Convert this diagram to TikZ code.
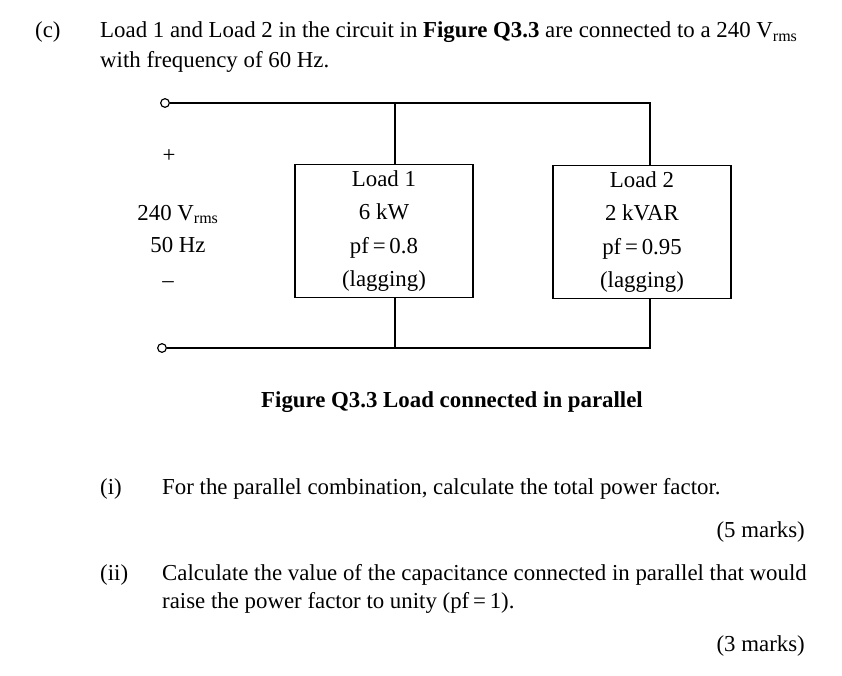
\documentclass[tikz,border=0pt]{standalone}
\usepackage{fontspec}
\setmainfont{Liberation Serif}
\usetikzlibrary{positioning}
\tikzset{
  txt/.style={anchor=base west, inner sep=0pt, font=\fontsize{19.5}{23}\selectfont},
  load/.style={draw, line width=1.2pt, minimum width=178*0.03cm, minimum height=133*0.03cm, align=center, font=\fontsize{19.5}{28.5}\selectfont},
  term/.style={circle, draw, line width=1pt, inner sep=0pt, minimum size=0.26cm},
  wire/.style={line width=1.2pt}
}
\begin{document}
\begin{tikzpicture}[x=0.03cm, y=-0.03cm]
    \useasboundingbox (0,0) rectangle (842,676);
    % Question text
    \node[txt] (qc) at (35,38) {(c)};
    \node[txt] (ql1) at (100,38) {Load 1 and Load 2 in the circuit in \textbf{Figure Q3.3} are connected to a 240 V\textsubscript{rms}};
    \node[txt] (ql2) at (100,68) {with frequency of 60 Hz.};

    % Circuit
    \node[term] (tp) at (165,103) {};
    \node[term] (tn) at (162,348) {};
    \node[load] (L1) at (384,231) {Load 1\\6 kW\\pf\,=\,0.8\\(lagging)};
    \node[load] (L2) at (642,232) {Load 2\\2 kVAR\\pf\,=\,0.95\\(lagging)};
    \coordinate (tr) at (650,103);
    \coordinate (br) at (650,348);
    \coordinate (l1t) at (395,165);
    \coordinate (l1b) at (395,297);
    \draw[wire] (tp) -- (tr) -- (tr |- L2.north);
    \draw[wire] (l1t) -- (l1t |- tp);
    \draw[wire] (tn) -- (br) -- (br |- L2.south);
    \draw[wire] (l1b) -- (l1b |- tn);
    \node[font=\fontsize{19.5}{23}\selectfont] (plus) at (169,156) {+};
    \node[font=\fontsize{19.5}{28}\selectfont, align=center] (src) at (178,229) {240 V\textsubscript{rms}\\50 Hz};
    \node[font=\fontsize{19.5}{23}\selectfont] (minus) at (168,285) {--};

    % Caption
    \node[font=\fontsize{19.5}{23}\selectfont\bfseries] (cap) at (452,402) {Figure Q3.3 Load connected in parallel};

    % Parts
    \node[txt] (pi) at (100,494) {(i)};
    \node[txt] (pit) at (162,494) {For the parallel combination, calculate the total power factor.};
    \node[txt, anchor=base east] (m5) at (805,537) {(5 marks)};
    \node[txt] (pii) at (100,580) {(ii)};
    \node[txt] (piit1) at (162,580) {Calculate the value of the capacitance connected in parallel that would};
    \node[txt] (piit2) at (162,608) {raise the power factor to unity (pf\,=\,1).};
    \node[txt, anchor=base east] (m3) at (805,651) {(3 marks)};
\end{tikzpicture}
\end{document}
